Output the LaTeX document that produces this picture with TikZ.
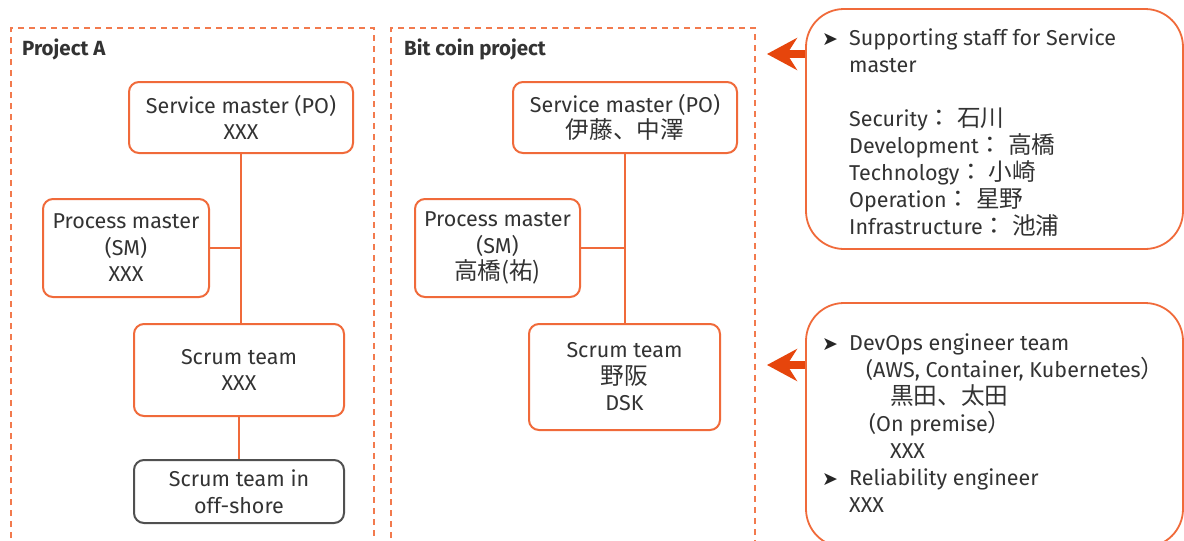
\documentclass[tikz,border=0pt]{standalone}
\usepackage{fontspec}
\setmainfont{Fira Sans}
\newfontfamily\cjk{Noto Sans CJK JP}[Scale=1.1]
\newfontfamily\dejavu{DejaVu Sans}
\usetikzlibrary{arrows.meta}
\definecolor{org}{HTML}{F06A3A}
\definecolor{dsh}{HTML}{F27A4E}
\definecolor{arr}{HTML}{E6450C}
\definecolor{txt}{HTML}{333333}
\definecolor{gry}{HTML}{505050}
\newcommand{\bul}{\makebox[27pt][l]{\raisebox{0pt}{\fontsize{19}{19}\selectfont\dejavu\color{black!85}➤}}}
\begin{document}
\begin{tikzpicture}[x=1pt,y=-1pt,
  box/.style={draw=org, line width=2pt, rounded corners=10pt, text=txt, align=center,
    font=\fontsize{21.5}{26.5}\selectfont, inner sep=0pt},
  offbox/.style={box, draw=gry},
  conn/.style={draw=org, line width=2pt},
  frame/.style={draw=dsh, line width=1.8pt, dash pattern=on 6pt off 5pt},
  title/.style={font=\fontsize{20.5}{22}\selectfont\bfseries, text=txt, anchor=west, inner sep=0pt},
  bigbox/.style={draw=org, line width=1.8pt, rounded corners=38pt, inner sep=0pt},
  bigtext/.style={text=txt, align=left, anchor=north west, inner sep=0pt,
    font=\fontsize{21.5}{27}\selectfont},
  bigarrow/.style={draw=arr, line width=8pt, -{Stealth[length=30pt,width=32pt,inset=10pt]}}
]
\useasboundingbox (0,0) rectangle (1184,541);
\fill[white] (0,0) rectangle (1184,541);

% dashed frames
\draw[frame] (11,560) -- (11,28) -- (374,28) -- (374,560);
\draw[frame] (391,560) -- (391,28) -- (755,28) -- (755,560);
\node[title] (ta) at (22,49) {Project A};
\node[title] (tb) at (404,49) {Bit coin project};

% Project A
\node[box, minimum width=224pt, minimum height=71pt] (aSM) at (241,117.5) {Service master (PO)\\XXX};
\node[box, minimum width=166pt, minimum height=98pt] (aPM) at (126,248) {Process master\\(SM)\\XXX};
\node[box, minimum width=210pt, minimum height=92pt] (aST) at (239,370) {Scrum team\\XXX};
\node[offbox, minimum width=210pt, minimum height=63pt] (aOS) at (239,491.5) {Scrum team in\\off-shore};
\draw[conn] (aSM.south) -- (aSM.south |- aST.north);
\draw[conn] (aPM.east) -- (aPM.east -| aSM.south);
\draw[conn] (aST.south) -- (aOS.north);

% Bit coin project
\node[box, minimum width=224pt, minimum height=71pt] (bSM) at (625,117.5) {Service master (PO)\\{\cjk 伊藤、中澤}};
\node[box, minimum width=165pt, minimum height=98pt] (bPM) at (497.5,248) {Process master\\(SM)\\{\cjk 高橋(祐)}};
\node[box, minimum width=191pt, minimum height=106pt] (bST) at (624.5,377) {Scrum team\\{\cjk 野阪}\\DSK};
\draw[conn] (bSM.south) -- (bSM.south |- bST.north);
\draw[conn] (bPM.east) -- (bPM.east -| bSM.south);

% right boxes
\node[bigbox, minimum width=377pt, minimum height=240pt] (sup) at (994.5,129) {};
\node[bigbox, minimum width=377pt, minimum height=244pt] (dev) at (994.5,425) {};
\node[bigtext] (suptext) at (822,28.5) {%
\bul Supporting staff for Service\\
\hspace*{27pt}master\\[27pt]
\hspace*{27pt}Security{\cjk ：} {\cjk 石川}\\
\hspace*{27pt}Development{\cjk ：} {\cjk 高橋}\\
\hspace*{27pt}Technology{\cjk ：} {\cjk 小崎}\\
\hspace*{27pt}Operation{\cjk ：} {\cjk 星野}\\
\hspace*{27pt}Infrastructure{\cjk ：} {\cjk 池浦}};
\node[bigtext] (devtext) at (822,333.5) {%
\bul DevOps engineer team\\
\hspace*{44pt}(AWS, Container, Kubernetes{\cjk ）}\\
\hspace*{68pt}{\cjk 黒田、太田}\\
\hspace*{47pt}(On premise{\cjk ）}\\
\hspace*{68pt}XXX\\
\bul Reliability engineer\\
\hspace*{27pt}XXX};

% arrows
\coordinate (t1) at (767,54);
\coordinate (t2) at (767,365);
\draw[bigarrow] (sup.west |- t1) -- (t1);
\draw[bigarrow] (dev.west |- t2) -- (t2);
\end{tikzpicture}
\end{document}
